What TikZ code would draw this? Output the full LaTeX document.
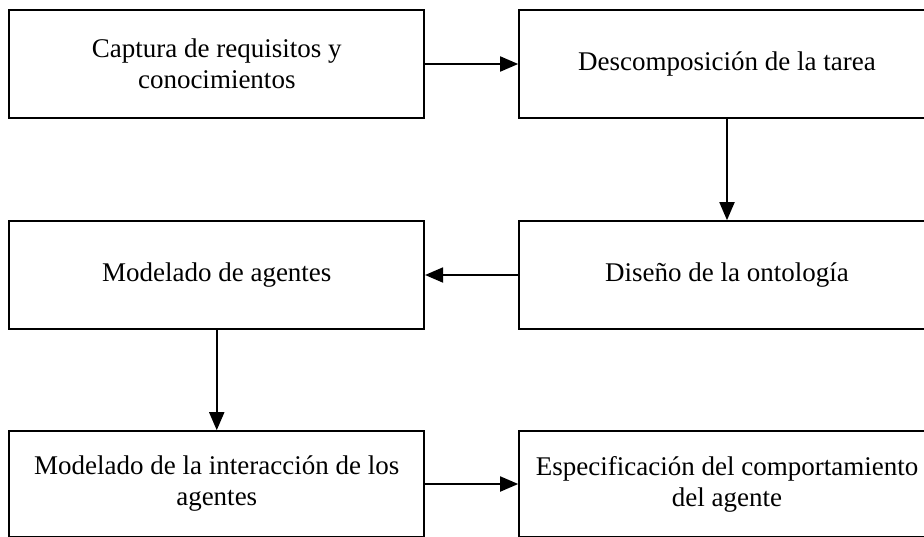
\documentclass[tikz,border=0pt]{standalone}
\usepackage{fontspec}
\setmainfont{Liberation Serif}
\usetikzlibrary{arrows.meta}
\begin{document}
\begin{tikzpicture}[x=1pt,y=-1pt,
  box/.style={draw, line width=1.6pt, minimum width=415pt, minimum height=108pt,
    inner sep=0pt, align=center, font=\fontsize{27}{31}\selectfont},
  flow/.style={line width=1.8pt, -{Triangle[length=18pt,width=15pt]}}]
\useasboundingbox (0,0) rectangle (924,536);
\clip (0,0) rectangle (924,536);
\node[box] (b1) at (216.75,64) {Captura de requisitos y\\conocimientos};
\node[box, minimum width=416pt] (b2) at (727,64) {Descomposición de la tarea};
\node[box] (b3) at (216.75,275) {Modelado de agentes};
\node[box, minimum width=416pt] (b4) at (727,275) {Diseño de la ontología};
\node[box, minimum height=106pt] (b5) at (216.75,484) {Modelado de la interacción de los\\agentes};
\node[box, minimum width=416pt, minimum height=106pt] (b6) at (727,484) {Especificación del comportamiento\\del agente};
\draw[flow] (b1.east) -- (b2.west);
\draw[flow] (b2.south) -- (b4.north);
\draw[flow] (b4.west) -- (b3.east);
\draw[flow] (b3.south) -- (b5.north);
\draw[flow] (b5.east) -- (b6.west);
\end{tikzpicture}
\end{document}
